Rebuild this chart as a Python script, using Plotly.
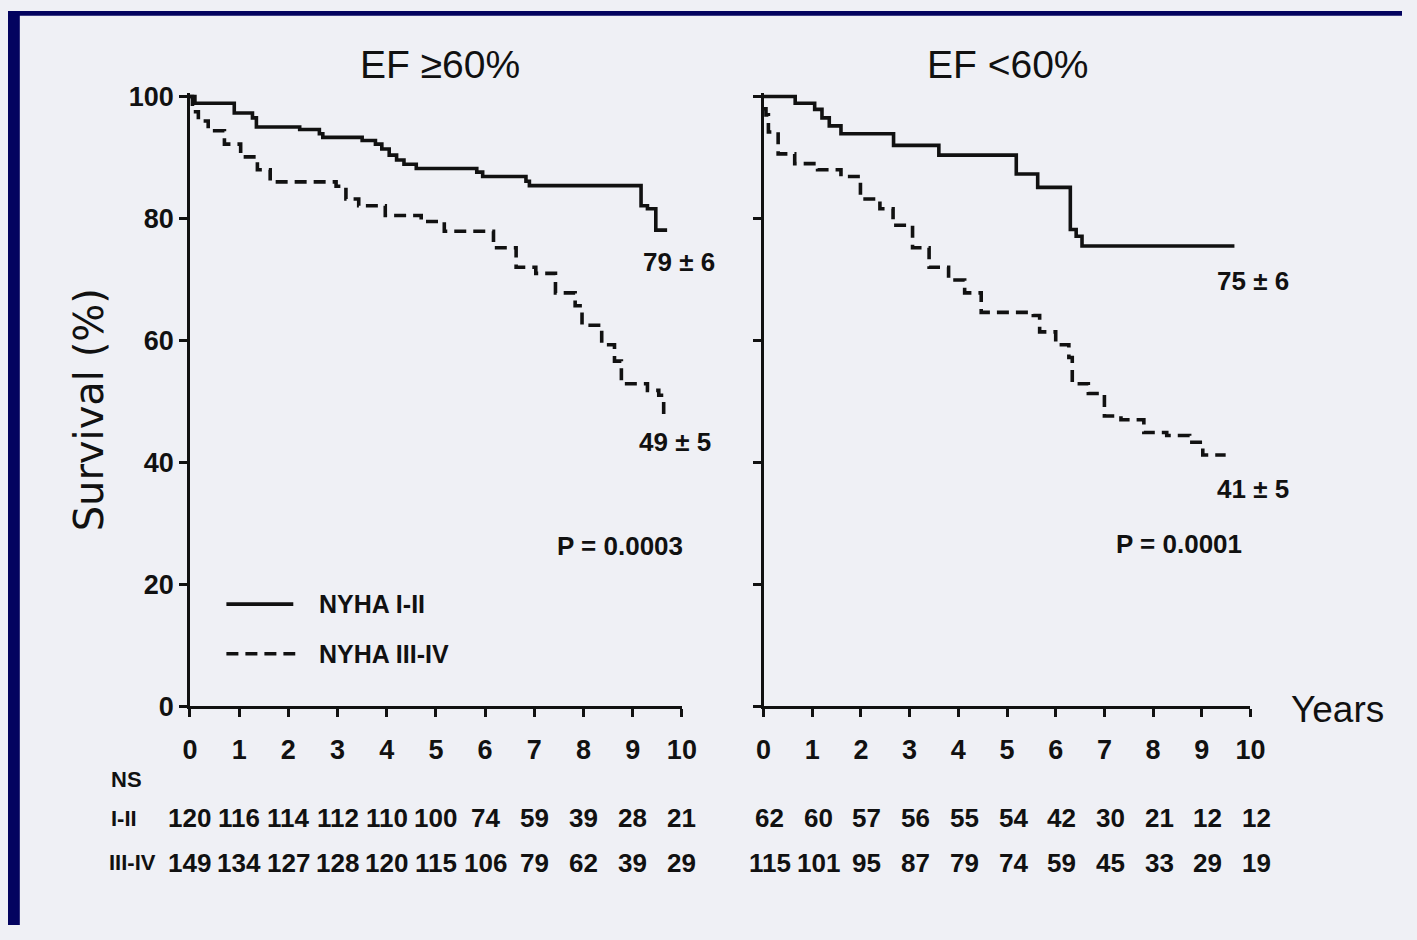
import plotly.graph_objects as go

W, H = 1417, 940

# ---------------- data ----------------
years_ticks = list(range(0, 11))
y_ticks = [0, 20, 40, 60, 80, 100]

# EF >= 60% panel
left_nyha12_t = [0, 0.1, 0.9, 1.27, 1.35, 2.23, 2.63, 2.7, 3.5, 3.77, 3.9, 4.05, 4.2, 4.35, 4.6, 5.83, 5.95, 6.83, 6.9, 9.17, 9.3, 9.47, 9.7]
left_nyha12_s = [100, 98.9, 97.3, 96.5, 95.0, 94.6, 93.9, 93.3, 92.8, 92.2, 91.4, 90.4, 89.6, 88.9, 88.2, 87.6, 86.9, 86.1, 85.4, 82.1, 81.6, 78.1, 78.1]
left_nyha34_t = [0, 0.05, 0.17, 0.37, 0.7, 1.03, 1.37, 1.63, 2.97, 3.17, 3.43, 3.97, 4.7, 5.17, 6.17, 6.63, 7.03, 7.43, 7.83, 7.97, 8.37, 8.63, 8.77, 9.3, 9.53, 9.63]
left_nyha34_s = [100, 97.5, 96.0, 94.4, 92.2, 90.1, 88.0, 86.0, 85.3, 83.2, 82.1, 80.5, 79.5, 77.9, 75.2, 72.0, 71.0, 67.8, 65.7, 62.5, 59.3, 56.6, 52.9, 51.8, 51.0, 47.8]

# EF < 60% panel
right_nyha12_t = [0, 0.65, 1.05, 1.2, 1.35, 1.59, 2.67, 3.6, 5.19, 5.63, 6.3, 6.42, 6.54, 9.67]
right_nyha12_s = [100, 98.9, 97.9, 96.5, 95.2, 93.9, 92.0, 90.4, 87.3, 85.1, 78.2, 77.1, 75.5, 75.5]
right_nyha34_t = [0, 0.05, 0.1, 0.3, 0.64, 1.11, 1.59, 1.99, 2.39, 2.66, 3.06, 3.4, 3.8, 4.13, 4.47, 5.54, 5.67, 6.0, 6.27, 6.34, 6.67, 7.0, 7.34, 7.81, 8.28, 8.75, 9.02, 9.49]
right_nyha34_s = [98, 97.0, 94.2, 90.6, 89.0, 88.0, 86.9, 83.2, 81.6, 78.9, 75.2, 72.0, 69.9, 67.8, 64.6, 64.1, 61.4, 59.3, 57.2, 52.9, 51.3, 47.6, 47.0, 44.9, 44.4, 43.3, 41.2, 41.2]

# numbers at risk
risk_left_12 = [120, 116, 114, 112, 110, 100, 74, 59, 39, 28, 21]
risk_left_34 = [149, 134, 127, 128, 120, 115, 106, 79, 62, 39, 29]
risk_right_12 = [62, 60, 57, 56, 55, 54, 42, 30, 21, 12, 12]
risk_right_34 = [115, 101, 95, 87, 79, 74, 59, 45, 33, 29, 19]

panel_titles = ["EF \u226560%", "EF <60%"]
end_labels_left = [("79 \u00b1 6", 9.94, 72.9), ("49 \u00b1 5", 9.86, 43.4), ("P = 0.0003", 8.74, 26.3)]
end_labels_right = [("75 \u00b1 6", 10.0, 69.7), ("41 \u00b1 5", 10.0, 35.7), ("P = 0.0001", 8.53, 26.6)]

# ---------------- style ----------------
FONT = "Liberation Sans, Arial, sans-serif"
BG = "#eff0f5"
NAVY = "#03035f"
INK = "#111111"

def px(p):
    return p / W

def py(p):
    return 1 - p / H

fig = go.Figure()

solid = dict(color=INK, width=3.6)
dashed = dict(color=INK, width=3.6, dash="12px,7px")

fig.add_trace(go.Scatter(x=left_nyha12_t, y=left_nyha12_s, mode="lines", line=dict(shape="hv", **solid), xaxis="x", yaxis="y", showlegend=False))
fig.add_trace(go.Scatter(x=left_nyha34_t, y=left_nyha34_s, mode="lines", line=dict(shape="hv", **dashed), xaxis="x", yaxis="y", showlegend=False))
fig.add_trace(go.Scatter(x=right_nyha12_t, y=right_nyha12_s, mode="lines", line=dict(shape="hv", **solid), xaxis="x2", yaxis="y2", showlegend=False))
fig.add_trace(go.Scatter(x=right_nyha34_t, y=right_nyha34_s, mode="lines", line=dict(shape="hv", **dashed), xaxis="x2", yaxis="y2", showlegend=False))

ytop = 100.6
ydom = [py(715), py(715 - ytop * 6.27)]

axis_common = dict(showline=True, linecolor=INK, linewidth=2.5, ticks="outside", ticklen=8,
                   tickwidth=2.5, tickcolor=INK, showgrid=False, zeroline=False)
tickfont = dict(family=FONT, size=27, color=INK, weight="bold")

fig.update_layout(
    width=W, height=H,
    margin=dict(l=0, r=0, t=0, b=0),
    paper_bgcolor=BG, plot_bgcolor="rgba(0,0,0,0)",
    showlegend=False,
    xaxis=dict(domain=[px(185), px(685)], range=[0, 10], tickvals=years_ticks, anchor="y",
               tickfont=tickfont, ticklabelstandoff=10, **axis_common),
    yaxis=dict(domain=ydom, range=[0, ytop], tickvals=y_ticks, anchor="x",
               tickfont=tickfont, **axis_common),
    xaxis2=dict(domain=[px(768), px(1263)], range=[0, 10], tickvals=years_ticks, anchor="y2",
                tickfont=tickfont, ticklabelstandoff=10, **axis_common),
    yaxis2=dict(domain=ydom, range=[0, ytop], tickvals=y_ticks, anchor="x2",
                showticklabels=False, **axis_common),
)

C = dict(xanchor="center", yanchor="middle", showarrow=False)
L = dict(xanchor="left", yanchor="middle", showarrow=False)

ann = []
# panel titles
ann.append(dict(text=panel_titles[0], x=px(439), y=py(55), xref="paper", yref="paper",
                font=dict(family=FONT, size=39, color=INK), **C))
ann.append(dict(text=panel_titles[1], x=px(1017), y=py(55), xref="paper", yref="paper",
                font=dict(family=FONT, size=39, color=INK), **C))
# y title
ann.append(dict(text="Survival (%)", x=px(82), y=py(410), xref="paper", yref="paper",
                textangle=-90, font=dict(family="DejaVu Sans, sans-serif", size=40, color=INK), **C))
# Years
ann.append(dict(text="Years", x=px(1351), y=py(718), xref="paper", yref="paper",
                font=dict(family=FONT, size=37, color=INK), **C))
# end labels
for txt, xx, yy in end_labels_left:
    ann.append(dict(text=txt, x=xx, y=yy, xref="x", yref="y",
                    font=dict(family=FONT, size=26, color=INK, weight="bold"), **C))
for txt, xx, yy in end_labels_right:
    ann.append(dict(text=txt, x=xx, y=yy, xref="x2", yref="y2",
                    xshift=2 if txt.startswith("7") or txt.startswith("4") else 0,
                    font=dict(family=FONT, size=26, color=INK, weight="bold"), **C))
# legend text
ann.append(dict(text="NYHA I-II", x=px(314), y=py(610), xref="paper", yref="paper",
                font=dict(family=FONT, size=25, color=INK, weight="bold"), **L))
ann.append(dict(text="NYHA III-IV", x=px(314), y=py(661), xref="paper", yref="paper",
                font=dict(family=FONT, size=25, color=INK, weight="bold"), **L))
# numbers at risk
tab_font = dict(family=FONT, size=26, color=INK, weight="bold")
lab_font = dict(family=FONT, size=22, color=INK, weight="bold")
ann.append(dict(text="NS", x=px(103), y=py(790), xref="paper", yref="paper", font=lab_font, **L))
ann.append(dict(text="I-II", x=px(103), y=py(830), xref="paper", yref="paper", font=lab_font, **L))
ann.append(dict(text="III-IV", x=px(101), y=py(876), xref="paper", yref="paper", font=lab_font, **L))
for i, v in enumerate(risk_left_12):
    ann.append(dict(text=str(v), x=years_ticks[i], y=py(830), xref="x", yref="paper", font=tab_font, **C))
for i, v in enumerate(risk_left_34):
    ann.append(dict(text=str(v), x=years_ticks[i], y=py(876), xref="x", yref="paper", font=tab_font, **C))
for i, v in enumerate(risk_right_12):
    ann.append(dict(text=str(v), x=years_ticks[i], y=py(830), xref="x2", yref="paper", xshift=6, font=tab_font, **C))
for i, v in enumerate(risk_right_34):
    ann.append(dict(text=str(v), x=years_ticks[i], y=py(876), xref="x2", yref="paper", xshift=6, font=tab_font, **C))

fig.update_layout(annotations=ann)

shapes = [
    # navy slide frame (left and top)
    dict(type="rect", xref="paper", yref="paper", x0=0, x1=px(12), y0=0, y1=1, fillcolor=NAVY, line=dict(width=0), layer="above"),
    dict(type="rect", xref="paper", yref="paper", x0=0, x1=1, y0=py(5), y1=1, fillcolor=NAVY, line=dict(width=0), layer="above"),
    # legend samples
    dict(type="line", xref="paper", yref="paper", x0=px(222), x1=px(290), y0=py(610), y1=py(610), line=dict(color=INK, width=3.6)),
    dict(type="line", xref="paper", yref="paper", x0=px(222), x1=px(292), y0=py(661), y1=py(661), line=dict(color=INK, width=3.6, dash="12px,7px")),
]
fig.update_layout(shapes=shapes)

fig.write_html(
    "out.html",
    post_script=(
        "document.documentElement.style.margin='0';document.documentElement.style.padding='0';"
        "document.body.style.margin='0';document.body.style.padding='0';"
        "document.body.style.background='" + BG + "';"
        "var d=document.getElementById('{plot_id}');"
        "if(d){var p=d.parentElement;if(p){p.style.margin='0';p.style.padding='0';}}"
    ),
)
